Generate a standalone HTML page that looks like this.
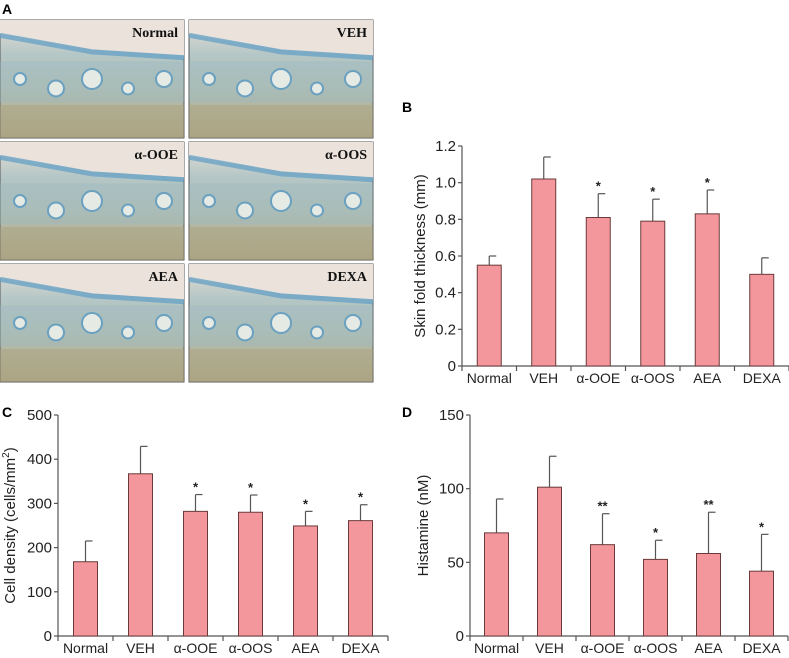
<!DOCTYPE html>
<html><head><meta charset="utf-8">
<style>
body{margin:0;background:#fff;width:789px;height:653px;overflow:hidden;font-family:"Liberation Sans",Arial,sans-serif}
</style></head>
<body>
<svg id="fig" width="789" height="653" viewBox="0 0 789 653" xmlns="http://www.w3.org/2000/svg" font-family="Liberation Sans, Arial, sans-serif">
<defs>
<linearGradient id="bgTis" x1="0" y1="0" x2="0" y2="1">
<stop offset="0" stop-color="#e6dfd6"/><stop offset="0.3" stop-color="#b4c6c6"/><stop offset="0.6" stop-color="#b7bfae"/><stop offset="1" stop-color="#b0a88a"/>
</linearGradient>
</defs>
<text x="2" y="14" font-size="14" font-weight="bold">A</text>
<text x="402" y="112" font-size="14" font-weight="bold">B</text>
<text x="2" y="417" font-size="14" font-weight="bold">C</text>
<text x="402" y="417" font-size="14" font-weight="bold">D</text>
<g id="micro"></g>
<g id="chartB"></g>
<g id="chartC"></g>
<g id="chartD"></g>
</svg>
<script>
const categories = ["Normal","VEH","\u03b1-OOE","\u03b1-OOS","AEA","DEXA"];
const skinValues = [0.55,1.02,0.81,0.79,0.83,0.50];
const skinErrors = [0.05,0.12,0.13,0.12,0.13,0.09];
const skinStars = ["","","*","*","*",""];
const skinTicks = [0,0.2,0.4,0.6,0.8,1.0,1.2];
const cellValues = [168,367,282,280,249,261];
const cellErrors = [47,62,38,39,33,36];
const cellStars = ["","","*","*","*","*"];
const cellTicks = [0,100,200,300,400,500];
const histValues = [70,101,62,52,56,44];
const histErrors = [23,21,21,13,28,25];
const histStars = ["","","**","*","**","*"];
const histTicks = [0,50,100,150];
const microLabels = ["Normal","VEH","\u03b1-OOE","\u03b1-OOS","AEA","DEXA"];

const NS="http://www.w3.org/2000/svg";
function mk(tag,attrs,parent){const e=document.createElementNS(NS,tag);for(const k in attrs)e.setAttribute(k,attrs[k]);parent.appendChild(e);return e;}

(function(){
  const g=document.getElementById('micro');
  const xs=[0,189], ys=[20,142,264], w=184, h=118;
  microLabels.forEach((lab,i)=>{
    const x=xs[i%2], y=ys[Math.floor(i/2)];
    const p=mk('g',{},g);
    
    
    mk('rect',{x:x,y:y,width:w,height:h,fill:'url(#bgTis)',stroke:'#555','stroke-width':1},p);
    mk('polygon',{points:`${x},${y} ${x+w},${y} ${x+w},${y+h*0.3} ${x+w*0.5},${y+h*0.25} ${x},${y+h*0.12}`,fill:'#ebe3db'},p);
    mk('polyline',{points:`${x},${y+h*0.13} ${x+w*0.5},${y+h*0.27} ${x+w},${y+h*0.32}`,fill:'none',stroke:'#6aa3c6','stroke-width':5,opacity:0.8},p);
    mk('rect',{x:x,y:y+h*0.35,width:w,height:h*0.35,fill:'#93b8c6',opacity:0.35},p);
    mk('rect',{x:x,y:y+h*0.72,width:w,height:h*0.28,fill:'#a89f7c',opacity:0.45},p);
    for(let k=0;k<5;k++){
      mk('circle',{cx:x+20+k*36,cy:y+h*(0.5+0.08*(k%2)),r:6+(k%3)*2,fill:'#e6eae4',stroke:'#6aa0c0','stroke-width':2},p);
    }
    const t=mk('text',{x:x+w-6,y:y+17,'text-anchor':'end','font-size':14,'font-weight':'bold','font-family':'Liberation Serif, serif',fill:'#111'},p);
    t.textContent=lab;
    
    
  });
})();

function drawChart(gid,cfg,values,errors,stars,ticks){
  const g=document.getElementById(gid);
  const {x0,x1,yBase,yTop,vmax,title,titleX,fmt}=cfg;
  const n=categories.length, step=(x1-x0)/n, bw=24;
  const ys=v=>yBase-(v/vmax)*(yBase-yTop);
  const xc=i=>x0+step*(i+0.5);
  const ya=mk('line',{x1:x0,y1:yTop,x2:x0,y2:yBase,stroke:'#555','stroke-width':1.2},g);
  
  const xa=mk('line',{x1:x0,y1:yBase,x2:x1,y2:yBase,stroke:'#555','stroke-width':1.2},g);
  
  ticks.forEach(t=>{
    const y=ys(t);
    mk('line',{x1:x0-4,y1:y,x2:x0,y2:y,stroke:'#555','stroke-width':1.2},g);
    const tl=mk('text',{x:x0-6,y:y+5,'text-anchor':'end','font-size':15,fill:'#222'},g);
    tl.textContent=fmt(t);
    
  });
  for(let i=0;i<=n;i++){
    mk('line',{x1:x0+step*i,y1:yBase,x2:x0+step*i,y2:yBase+5,stroke:'#555','stroke-width':1.2},g);
  }
  categories.forEach((c,i)=>{
    const v=values[i], e=errors[i], cx=xc(i);
    const eb=mk('line',{x1:cx,y1:ys(v),x2:cx,y2:ys(v+e),stroke:'#555','stroke-width':1.2},g);
    
    mk('line',{x1:cx,y1:ys(v+e),x2:cx+7,y2:ys(v+e),stroke:'#555','stroke-width':1.2},g);
    const b=mk('rect',{x:cx-bw/2,y:ys(v),width:bw,height:yBase-ys(v),fill:'#f4979d',stroke:'#6b3a3a','stroke-width':1},g);
    
    
    if(stars[i]){
      const s=mk('text',{x:cx,y:ys(v+e)-3,'text-anchor':'middle','font-size':13,'font-weight':'bold',fill:'#222'},g);
      s.textContent=stars[i];
      
    }
    const l=mk('text',{x:cx,y:yBase+17,'text-anchor':'middle','font-size':14,fill:'#222'},g);
    l.textContent=c;
    
  });
  const ty=(yBase+yTop)/2;
  const tt=mk('text',{x:titleX,y:ty,'text-anchor':'middle','font-size':15,fill:'#222',transform:`rotate(-90 ${titleX} ${ty})`},g);
  tt.innerHTML=title;
  
}
drawChart('chartB',{x0:462,x1:789,yBase:366,yTop:146,vmax:1.2,title:'Skin fold thickness (mm)',titleX:425,fmt:t=>t===0?'0':t.toFixed(1)},skinValues,skinErrors,skinStars,skinTicks);
drawChart('chartC',{x0:58,x1:388,yBase:636,yTop:415,vmax:500,title:'Cell density (cells/mm<tspan dy="-6" font-size="10">2</tspan><tspan dy="6">)</tspan>',titleX:15,fmt:t=>String(t)},cellValues,cellErrors,cellStars,cellTicks);
drawChart('chartD',{x0:470,x1:788,yBase:636,yTop:415,vmax:150,title:'Histamine (nM)',titleX:428,fmt:t=>String(t)},histValues,histErrors,histStars,histTicks);
</script>
</body></html>
